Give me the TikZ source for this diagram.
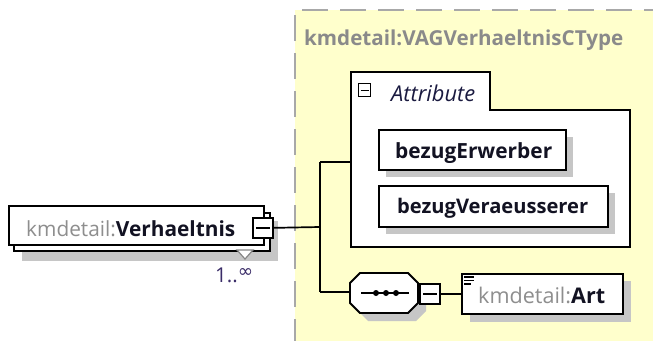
\documentclass[tikz,border=0pt]{standalone}
\usepackage{fontspec}
\setmainfont{Open Sans}
\newfontfamily\djv{DejaVu Sans}
\definecolor{yfill}{HTML}{FFFFCC}
\definecolor{dashgray}{HTML}{A8A8A8}
\definecolor{shadowgray}{HTML}{C6C6C6}
\definecolor{nsgray}{HTML}{8E8E8E}
\definecolor{titlegray}{HTML}{8A8A8A}
\definecolor{occ}{HTML}{3A2C68}
\definecolor{txt}{HTML}{121222}
\definecolor{attrtxt}{HTML}{1A1A40}
\newcommand\fitw[2]{\resizebox{#1}{!}{#2}}
\begin{document}
\begin{tikzpicture}[x=1pt,y=-1pt,
  box/.style={draw=black, line width=1.8pt, fill=white, inner sep=0pt, anchor=north west},
  shadowbox/.style={fill=shadowgray, inner sep=0pt, anchor=north west, draw=none},
  conn/.style={draw=black, line width=1.7pt},
  btn/.style={draw=black, line width=1.7pt, fill=white, inner sep=0pt, minimum width=20pt, minimum height=20pt, anchor=north west},
  lbl/.style={inner sep=0pt, anchor=base west}]
\useasboundingbox (0,0) rectangle (653,340);
% complex type area
\fill[yfill] (295,10) rectangle (660,345);
\draw[dashgray, line width=2.2pt, dash pattern=on 26pt off 12pt] (295,345) -- (295,10) -- (660,10);
\node[lbl, text=titlegray] (title) at (304,45) {\fitw{319pt}{\bfseries kmdetail:VAGVerhaeltnisCType}};

% Verhaeltnis element
\node[shadowbox, minimum width=256pt, minimum height=40pt] (vsh) at (22,221) {};
\node[box, minimum width=256pt, minimum height=38pt] (vback) at (13,212) {};
\node[box, minimum width=255pt, minimum height=39pt] (verh) at (8,205) {};
\node[lbl] (vtxt) at (26,236) {\fitw{209pt}{\color{nsgray}kmdetail:\color{txt}\bfseries Verhaeltnis}};
\node[btn] (vbtn) at (252,217) {};
\draw[line width=1.7pt] ([xshift=4pt]vbtn.west) -- ([xshift=-4pt]vbtn.east);
\draw[dashgray!80!black, line width=1.2pt, fill=white] (237,250) -- (253,250) -- (245,259) -- cycle;
\node[lbl, text=occ] (occ) at (215,282) {\fitw{38pt}{1..\raisebox{0.45ex}{\djv\small ∞}}};

% junction
\coordinate (j1) at (320,227);
\coordinate (jtop) at (320,162);
\coordinate (jbot) at (320,292);
\draw[conn] (vbtn.east) -- (j1);
\draw[conn] (jtop) -- (jbot);

% attribute group
\node[inner sep=0pt, anchor=north west, minimum width=280pt, minimum height=137pt] (attr) at (351,110) {};
\draw[line width=1.8pt, fill=white] (351,72) -- (490,72) -- (490,110) -- (630,110) -- (630,247) -- (351,247) -- cycle;
\node[draw=black, line width=1.4pt, inner sep=0pt, minimum width=12pt, minimum height=13pt, anchor=north west] (amin) at (358,83) {};
\draw[line width=1.4pt] ([xshift=2.5pt]amin.west) -- ([xshift=-2.5pt]amin.east);
\node[lbl, text=attrtxt] (atxt) at (391,101) {\fitw{84pt}{\itshape Attribute}};
\draw[conn] (jtop) -- (attr.west |- jtop);

\node[shadowbox, minimum width=187pt, minimum height=40pt] (besh) at (386,137) {};
\node[box, minimum width=187pt, minimum height=40pt] (be) at (378,129) {};
\node[lbl] (betxt) at (395,158) {\fitw{157pt}{\color{txt}\bfseries bezugErwerber}};

\node[shadowbox, minimum width=229pt, minimum height=41pt] (bvsh) at (386,193) {};
\node[box, minimum width=229pt, minimum height=41pt] (bv) at (378,185) {};
\node[lbl] (bvtxt) at (397,213) {\fitw{191pt}{\color{txt}\bfseries bezugVeraeusserer}};

% sequence compositor
\node[inner sep=0pt, anchor=north west, minimum width=68pt, minimum height=40pt] (seq) at (350,273) {};
\fill[shadowgray] (368,281) -- (416,281) -- (426,291) -- (426,311) -- (416,321) -- (368,321) -- (358,311) -- (358,291) -- cycle;
\draw[line width=1.8pt, fill=white] (360,273) -- (408,273) -- (418,283) -- (418,303) -- (408,313) -- (360,313) -- (350,303) -- (350,283) -- cycle;
\draw[line width=1.5pt] (361,293) -- (409,293);
\foreach \dx in {376,386,396} \fill (\dx,293) circle (3pt);
\draw[conn] (jbot) -- (seq.west |- jbot);
\node[btn] (sbtn) at (419,283) {};
\draw[line width=1.7pt] ([xshift=4pt]sbtn.west) -- ([xshift=-4pt]sbtn.east);

% Art element
\node[shadowbox, minimum width=161pt, minimum height=41pt] (artsh) at (470,281) {};
\node[box, minimum width=161pt, minimum height=40pt] (art) at (461,273) {};
\draw[conn] (sbtn.east) -- (art.west |- sbtn.east);
\draw[line width=1.3pt] (464,277) -- (474,277) (464,280.5) -- (474,280.5) (464,284) -- (471,284);
\node[lbl] (arttxt) at (478,303) {\fitw{127pt}{\color{nsgray}kmdetail:\color{txt}\bfseries Art}};
\end{tikzpicture}
\end{document}
